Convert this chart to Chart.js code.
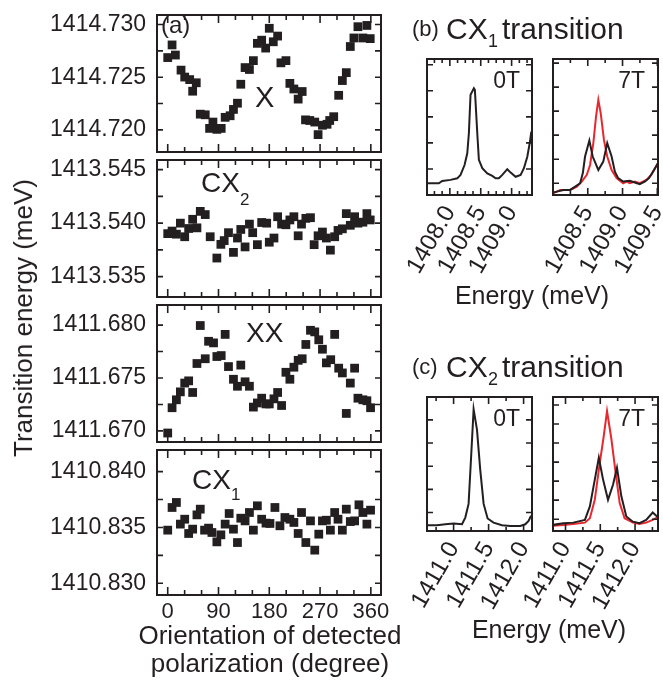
<!DOCTYPE html>
<html><head><meta charset="utf-8">
<script src="https://cdn.jsdelivr.net/npm/chart.js@4/dist/chart.umd.min.js"></script>
<style>
html,body{margin:0;padding:0;background:#fff;}
body{width:663px;height:686px;position:relative;overflow:hidden;font-family:"Liberation Sans",Arial,sans-serif;color:#231f20;}
canvas{position:absolute;}
.t{position:absolute;white-space:nowrap;}
</style></head><body>
<script>
// ---------------- data: panel (a) ----------------
const angleTicks = [0, 90, 180, 270, 360];

const angleX = [0,7.7,13.6,23.6,30.1,38.9,50.6,44.2,57.7,66.5,80.1,74.2,87.1,94.8,101.8,110.6,116.5,123.6,129.5,137.1,144.8,151.8,158.9,166.5,173.6,180.0,187.1,194.8,200.6,209.5,216.5,223.6,231.2,238.3,244.2,251.8,260.6,266.5,274.2,282.4,287.1,294.2,303.0,309.5,316.5,323.6,330.0,337.1,345.9,353.0,358.9];
const energyX = [1414.72686,1414.72806,1414.72710,1414.72567,1414.72501,1414.72477,1414.72447,1414.72367,1414.72149,1414.72143,1414.72074,1414.72014,1414.72005,1414.72014,1414.72119,1414.72134,1414.72194,1414.72253,1414.72433,1414.72591,1414.72573,1414.72657,1414.72821,1414.72851,1414.72776,1414.72964,1414.72836,1414.72890,1414.72636,1414.72657,1414.72441,1414.72388,1414.72292,1414.72364,1414.72095,1414.72089,1414.72074,1414.71955,1414.72044,1414.72053,1414.72089,1414.72125,1414.72328,1414.72468,1414.72543,1414.72791,1414.72872,1414.72979,1414.72872,1414.72991,1414.72866];
const ticksX = [1414.720, 1414.725, 1414.730];

const angleCX2 = [0,7.7,15.4,22.4,30.1,37.1,44.2,51.8,57.7,66.5,75.3,87.1,94.2,100.1,107.7,116.5,123.6,129.5,137.1,144.8,150.6,158.9,166.5,175.4,180.0,188.3,194.8,201.8,209.5,216.5,223.6,231.2,237.1,244.8,253.0,259.5,266.5,274.2,281.2,288.3,295.9,301.8,309.5,316.5,323.6,331.2,337.1,345.9,353.0,358.9];
const energyCX2 = [1413.53902,1413.53926,1413.53897,1413.54000,1413.53873,1413.53950,1413.54036,1413.53956,1413.54110,1413.54080,1413.53873,1413.53674,1413.53802,1413.53837,1413.53911,1413.53727,1413.53861,1413.53941,1413.53778,1413.53991,1413.53911,1413.53799,1413.54006,1413.54000,1413.53822,1413.53861,1413.54060,1413.53991,1413.53985,1413.54030,1413.54060,1413.53882,1413.53991,1413.54045,1413.54051,1413.53799,1413.53882,1413.53917,1413.53861,1413.53748,1413.53873,1413.53932,1413.53947,1413.54089,1413.53980,1413.54060,1413.54000,1413.54009,1413.54089,1413.54030];
const ticksCX2 = [1413.535, 1413.540, 1413.545];

const angleXX = [0,7.7,15.4,22.4,30.1,37.1,44.2,51.8,57.7,66.5,72.4,81.2,87.1,94.8,101.8,107.7,116.5,123.6,129.5,137.1,144.8,151.8,158.9,166.5,174.2,180.0,188.3,194.8,201.8,209.5,216.5,223.6,231.2,238.3,244.8,253.0,260.6,267.7,274.2,281.2,288.9,295.9,303.0,309.5,316.5,323.6,331.2,337.1,345.9,353.0,359.5];
const energyXX = [1411.66980,1411.67219,1411.67294,1411.67369,1411.67452,1411.67473,1411.67363,1411.67637,1411.67996,1411.67682,1411.67847,1411.67832,1411.67703,1411.67712,1411.67912,1411.67608,1411.67488,1411.67422,1411.67622,1411.67464,1411.67422,1411.67225,1411.67264,1411.67309,1411.67255,1411.67255,1411.67303,1411.67363,1411.67240,1411.67554,1411.67488,1411.67602,1411.67667,1411.67682,1411.67817,1411.67951,1411.67936,1411.67861,1411.67772,1411.67643,1411.67673,1411.67912,1411.67593,1411.67548,1411.67165,1411.67452,1411.67593,1411.67309,1411.67294,1411.67285,1411.67219];
const ticksXX = [1411.670, 1411.675, 1411.680];

const angleCX1 = [0,7.7,15.4,22.4,30.1,37.1,44.2,51.8,57.7,65.3,72.4,78.3,87.1,94.2,101.8,108.9,116.5,123.6,129.5,137.1,144.8,151.8,158.9,166.5,174.2,181.2,190.0,198.9,207.7,216.5,223.6,231.2,237.1,244.8,253.0,260.6,267.7,274.2,281.2,288.3,295.9,301.8,309.5,316.5,323.6,331.2,338.9,345.9,353.0,359.5];
const energyCX1 = [1410.83476,1410.83679,1410.83724,1410.83530,1410.83574,1410.83446,1410.83485,1410.83613,1410.83664,1410.83476,1410.83494,1410.83455,1410.83371,1410.83434,1410.83530,1410.83625,1410.83485,1410.83365,1410.83583,1410.83559,1410.83634,1410.83476,1410.83694,1410.83574,1410.83539,1410.83536,1410.83679,1410.83515,1410.83589,1410.83574,1410.83545,1410.83446,1410.83634,1410.83365,1410.83559,1410.83297,1410.83440,1410.83559,1410.83565,1410.83476,1410.83634,1410.83574,1410.83476,1410.83664,1410.83553,1410.83559,1410.83703,1410.83634,1410.83530,1410.83655];
const ticksCX1 = [1410.830, 1410.835, 1410.840];

// ---------------- data: panel (b) CX1 spectra ----------------
const ticksB0 = [1408.0, 1408.5, 1409.0];
const eB0 = [1407.634,1407.822,1407.877,1408.011,1408.12,1408.173,1408.238,1408.282,1408.308,1408.335,1408.389,1408.405,1408.444,1408.47,1408.525,1408.606,1408.687,1408.741,1408.794,1408.849,1408.93,1408.984,1409.065,1409.146,1409.199,1409.254,1409.297,1409.319];
const iB0 = [0.45,0.45,0.54,0.58,0.64,0.77,1.15,1.6,2.37,3.85,4.1,4.04,2.37,1.35,1.03,0.83,0.73,0.64,0.64,0.77,0.99,0.86,0.7,0.77,1.03,1.47,2.05,2.43];

const ticksB7 = [1408.5, 1409.0, 1409.5];
const eB7black = [1408.0,1408.057,1408.151,1408.247,1408.319,1408.39,1408.429,1408.461,1408.523,1408.571,1408.652,1408.723,1408.78,1408.843,1408.89,1408.937,1409.009,1409.104,1409.176,1409.247,1409.319,1409.38,1409.437,1409.509];
const iB7black = [-0.39,-0.35,-0.28,-0.28,-0.14,0,0.42,1.11,1.78,1.11,0.55,0.9,1.67,1.11,0.48,0.21,0.07,0.1,0.03,-0.04,0.07,0.21,0.48,0.83];
const eB7red = [1408.0,1408.104,1408.247,1408.343,1408.414,1408.486,1408.533,1408.58,1408.619,1408.652,1408.686,1408.733,1408.78,1408.843,1408.914,1409.009,1409.057,1409.104,1409.176,1409.247,1409.343,1409.414,1409.509];
const iB7red = [-0.42,-0.28,-0.28,-0.14,0.07,0.35,0.76,1.67,2.78,3.47,2.92,1.8,1.11,0.55,0.21,0,0.07,0,0.07,0,0.14,0.35,0.83];

// ---------------- data: panel (c) CX2 spectra ----------------
const ticksC0 = [1411.0, 1411.5, 1412.0];
const eC0 = [1410.62,1410.763,1410.881,1411.0,1411.12,1411.167,1411.214,1411.253,1411.286,1411.334,1411.381,1411.429,1411.486,1411.571,1411.691,1411.81,1411.953,1412.024,1412.071,1412.106];
const iC0 = [0.45,0.45,0.49,0.52,0.49,0.78,1.37,3.56,5.46,4.58,2.83,1.37,0.74,0.56,0.45,0.42,0.42,0.49,0.64,0.86];

const ticksC7 = [1411.0, 1411.5, 1412.0];
const eC7black = [1410.817,1410.969,1411.111,1411.279,1411.35,1411.421,1411.479,1411.54,1411.611,1411.683,1411.74,1411.803,1411.874,1411.969,1412.064,1412.16,1412.254,1412.326];
const iC7black = [-0.3,-0.21,-0.18,-0.04,0.67,2.08,3.23,2.08,1.02,1.81,2.7,1.2,0.14,-0.13,-0.21,-0.04,0.35,0.11];
const eC7red = [1410.817,1410.969,1411.111,1411.279,1411.35,1411.421,1411.493,1411.55,1411.597,1411.66,1411.721,1411.779,1411.85,1411.969,1412.064,1412.16,1412.254,1412.326];
const iC7red = [-0.35,-0.3,-0.25,-0.18,0.05,1.02,2.96,4.37,5.68,4.2,2.43,0.85,0.05,-0.18,-0.25,-0.18,-0.04,0.11];

// ---------------- drawing ----------------
const FONT = "'Liberation Sans', Arial, sans-serif";
const INK = '#231f20';
const RED = '#e8282e';

function mkCanvas(left, top, w, h) {
  const c = document.createElement('canvas');
  c.width = w; c.height = h;
  c.style.left = left + 'px'; c.style.top = top + 'px';
  c.style.width = w + 'px'; c.style.height = h + 'px';
  document.body.appendChild(c);
  return c;
}
function pts(xs, ys) { return xs.map((v, i) => ({x: v, y: ys[i]})); }
function setTicks(arr) { return s => { s.ticks = arr.map(v => ({value: v})); }; }

// frame + inward tick marks on all four sides, placed with the scales
const frameTicks = {
  id: 'frameTicks',
  afterDatasetsDraw(chart, args, o) {
    const {ctx, chartArea: a} = chart;
    const sx = chart.scales.x, sy = chart.scales.y;
    ctx.save();
    ctx.strokeStyle = INK;
    ctx.lineWidth = 1.6;
    const run = (scale, step, major, lMaj, lMin, horiz) => {
      const k0 = Math.ceil(scale.min / step - 1e-6), k1 = Math.floor(scale.max / step + 1e-6);
      for (let k = k0; k <= k1; k++) {
        const v = k * step, r = v / major;
        const len = Math.abs(r - Math.round(r)) < 1e-4 ? lMaj : lMin;
        const p = scale.getPixelForValue(v);
        ctx.beginPath();
        if (horiz) {
          ctx.moveTo(p, a.bottom); ctx.lineTo(p, a.bottom - len);
          ctx.moveTo(p, a.top); ctx.lineTo(p, a.top + len);
        } else {
          ctx.moveTo(a.left, p); ctx.lineTo(a.left + len, p);
          ctx.moveTo(a.right, p); ctx.lineTo(a.right - len, p);
        }
        ctx.stroke();
      }
    };
    run(sx, o.xStep, o.xMajor, o.xLong, o.xShort, true);
    run(sy, o.yStep, o.yMajor, o.yLong, o.yShort, false);
    ctx.lineWidth = 2;
    ctx.strokeRect(a.left, a.top, a.width, a.height);
    ctx.restore();
  }
};

const L_LEFT = 157, L_RIGHT = 381, L_H = 145;
function leftPanel(top, xs, ys, yMin, yMax, yTicks, showX) {
  const padT = 8, padB = showX ? 50 : 8, W = 400;
  const cv = mkCanvas(0, top - padT, W, L_H + padT + padB);
  new Chart(cv, {
    type: 'scatter',
    data: {datasets: [{data: pts(xs, ys), pointStyle: 'rect', radius: 6.2, hoverRadius: 6.2,
      backgroundColor: INK, borderWidth: 0}]},
    options: {
      responsive: false, animation: false, events: [],
      layout: {padding: {top: padT, right: W - L_RIGHT, left: 0, bottom: showX ? 0 : padB}},
      plugins: {legend: {display: false}, tooltip: {enabled: false},
        frameTicks: {xStep: 30, xMajor: 90, xLong: 8, xShort: 5, yStep: 0.0025, yMajor: 0.005, yLong: 6, yShort: 6}},
      scales: {
        x: {type: 'linear', min: -19, max: 378, display: showX,
          grid: {display: false, drawTicks: false}, border: {display: false},
          ticks: {color: INK, font: {family: FONT, size: 22}, padding: 4, autoSkip: false, callback: v => String(v)},
          afterBuildTicks: setTicks(angleTicks),
          afterFit: s => { s.height = padB; s.paddingLeft = 0; s.paddingRight = 0; }},
        y: {type: 'linear', min: yMin, max: yMax,
          grid: {display: false, drawTicks: false}, border: {display: false},
          ticks: {color: INK, font: {family: FONT, size: 23}, padding: 11, autoSkip: false, callback: v => v.toFixed(3)},
          afterBuildTicks: setTicks(yTicks),
          afterFit: s => { s.width = L_LEFT; s.paddingTop = 0; s.paddingBottom = 0; }}
      }
    },
    plugins: [frameTicks]
  });
}

leftPanel(15, angleX, energyX, 1414.7179, 1414.7309, ticksX, false);
leftPanel(160, angleCX2, energyCX2, 1413.5331, 1413.5459, ticksCX2, false);
leftPanel(305, angleXX, energyXX, 1411.66895, 1411.6819, ticksXX, false);
leftPanel(450, angleCX1, energyCX1, 1410.82895, 1410.84194, ticksCX1, true);

function spectrum(l, r, t, b, xMin, xMax, xTicks, xMinor, yMin, yMax, series) {
  const padL = 45, padR = 8, padT = 6, padB = 110;
  const w = r - l, h = b - t;
  const cv = mkCanvas(l - padL, t - padT, w + padL + padR, h + padT + padB);
  new Chart(cv, {
    type: 'line',
    data: {datasets: series.map(s => ({data: pts(s.x, s.y), borderColor: s.c, borderWidth: 2,
      pointRadius: 0, tension: 0, fill: false}))},
    options: {
      responsive: false, animation: false, events: [],
      layout: {padding: {top: padT, right: padR, left: padL, bottom: 0}},
      plugins: {legend: {display: false}, tooltip: {enabled: false},
        frameTicks: {xStep: xMinor, xMajor: 0.5, xLong: 7, xShort: 4, yStep: 1, yMajor: 1, yLong: 6, yShort: 6}},
      scales: {
        x: {type: 'linear', min: xMin, max: xMax,
          grid: {display: false, drawTicks: false}, border: {display: false},
          ticks: {color: INK, font: {family: FONT, size: 24}, padding: 6, autoSkip: false,
            minRotation: 60, maxRotation: 60, callback: v => v.toFixed(1)},
          afterBuildTicks: setTicks(xTicks),
          afterFit: s => { s.height = padB; s.paddingLeft = 0; s.paddingRight = 0; }},
        y: {type: 'linear', display: false, min: yMin, max: yMax}
      }
    },
    plugins: [frameTicks]
  });
}

spectrum(427, 532, 59, 195, 1407.63, 1409.33, ticksB0, 0.125, 0, 5.22,
  [{x: eB0, y: iB0, c: INK}]);
spectrum(553, 658, 59, 195, 1408.0, 1409.51, ticksB7, 0.25, -0.49, 5.17,
  [{x: eB7black, y: iB7black, c: INK}, {x: eB7red, y: iB7red, c: RED}]);
spectrum(427, 532, 397, 531, 1410.62, 1412.12, ticksC0, 0.25, 0.2, 5.99,
  [{x: eC0, y: iC0, c: INK}]);
spectrum(553, 658, 397, 531, 1410.82, 1412.33, ticksC7, 0.25, -0.62, 6.42,
  [{x: eC7black, y: iC7black, c: INK}, {x: eC7red, y: iC7red, c: RED}]);

// ---------------- text ----------------
function txt(html, x, base, size, align, extra) {
  const d = document.createElement('div');
  d.className = 't';
  d.innerHTML = html;
  d.style.fontSize = size + 'px';
  d.style.lineHeight = size + 'px';
  d.style.top = (base - 0.8465 * size) + 'px';
  d.style.left = x + 'px';
  const tx = align === 'center' ? 'translateX(-50%)' : align === 'right' ? 'translateX(-100%)' : '';
  d.style.transform = tx + (extra || '');
  document.body.appendChild(d);
  return d;
}
txt('(a)', 161, 33, 24);
txt('X', 255, 108, 29);
txt('CX', 201, 193, 28); txt('2', 240, 205, 17);
txt('XX', 246, 343, 28);
txt('CX', 192, 490, 28); txt('1', 231, 500, 17);

const yt = txt('Transition energy (meV)', 0, 0, 26);
yt.style.left = '23px'; yt.style.top = '318px';
yt.style.transform = 'translate(-50%,-50%) rotate(-90deg)';

txt('Orientation of detected', 270, 644, 26, 'center');
txt('polarization (degree)', 270, 672, 26, 'center');

txt('(b)', 412, 37, 22); txt('CX', 446, 39, 30); txt('1', 488, 47, 18); txt('transition', 502, 39, 30);
txt('0T', 520, 88, 23, 'right');
txt('7T', 645, 88, 23, 'right');
txt('Energy (meV)', 532, 304, 25, 'center');

txt('(c)', 412, 375, 22); txt('CX', 446, 377, 30); txt('2', 488, 385, 18); txt('transition', 502, 377, 30);
txt('0T', 520, 426, 23, 'right');
txt('7T', 645, 426, 23, 'right');
txt('Energy (meV)', 549, 638, 25, 'center');
</script>
</body></html>
